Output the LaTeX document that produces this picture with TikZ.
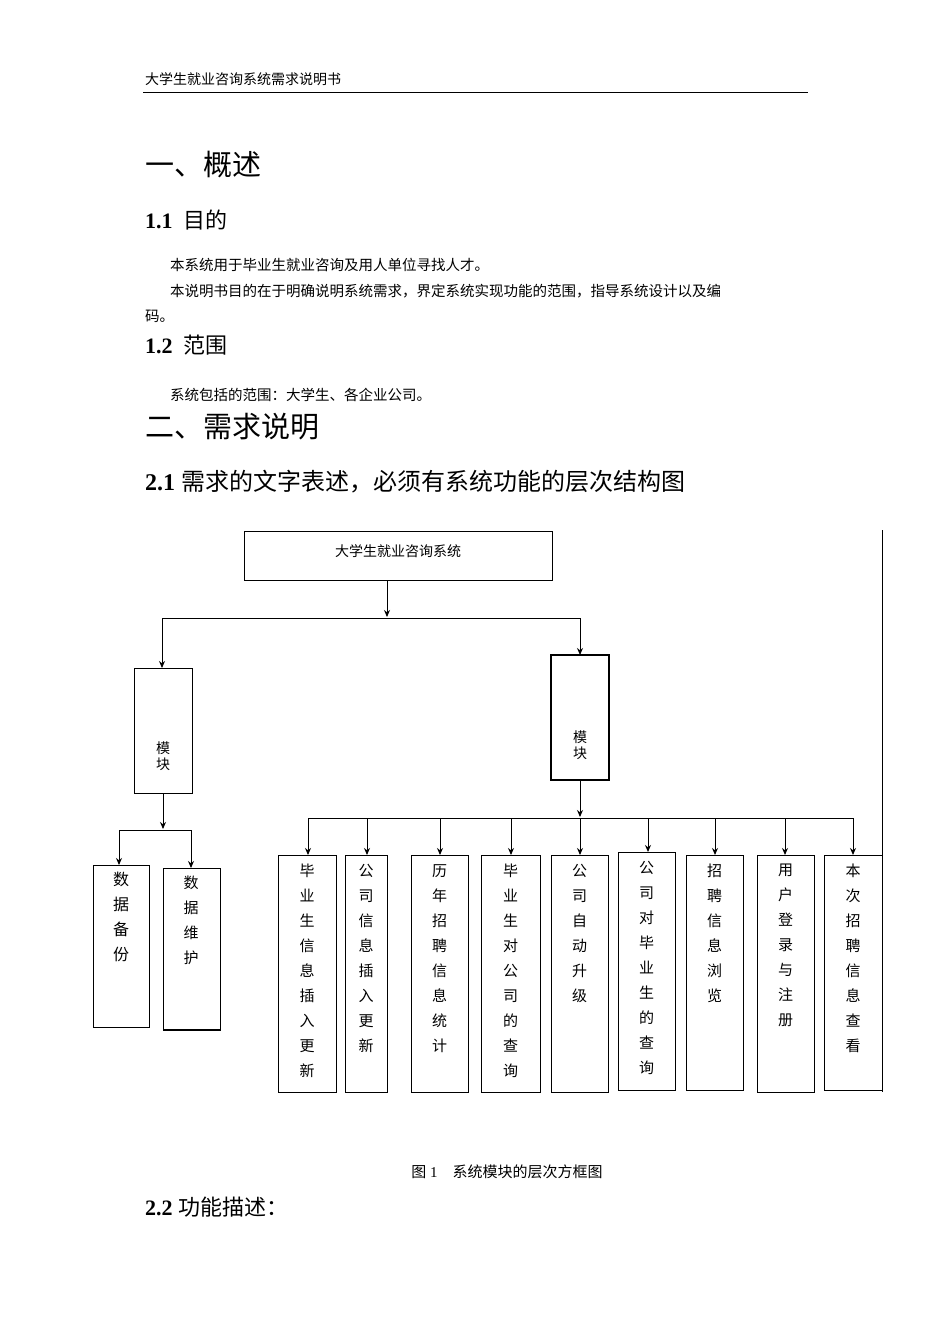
\documentclass[tikz,border=0pt]{standalone}
\usepackage{fontspec}
\usetikzlibrary{arrows.meta}
\setmainfont{Liberation Serif}
\newfontfamily\cjk{Noto Sans CJK SC}
\begin{document}
\begin{tikzpicture}[x=1pt,y=-1pt,
  bx/.style={draw,line width=0.8pt},
  arr/.style={-{Stealth[length=7pt,width=6pt]},line width=1pt},
  ln/.style={line width=1pt},
  vt/.style={anchor=north,align=center,font=\cjk\fontsize{15}{25}\selectfont,inner sep=0pt},
  tx/.style={anchor=west,inner sep=0pt}]
\useasboundingbox (0,0) rectangle (950,1344);
\fill[white] (0,0) rectangle (950,1344);
\node[tx,font=\cjk\fontsize{14}{14}\selectfont] (hd) at (145,79) {大学生就业咨询系统需求说明书};
\draw[line width=0.8pt] (143,92) -- (808,92);
\node[tx,font=\cjk\fontsize{29}{29}\selectfont] (h1) at (145,165) {一、概述};
\node[tx,font=\fontsize{22}{22}\selectfont] (h11) at (145,220) {\textbf{1.1}\ \ {\cjk 目的}};
\node[tx,font=\cjk\fontsize{14.5}{14.5}\selectfont] (p1) at (170,265) {本系统用于毕业生就业咨询及用人单位寻找人才。};
\node[tx,font=\cjk\fontsize{14.5}{14.5}\selectfont] (p2) at (170,291) {本说明书目的在于明确说明系统需求，界定系统实现功能的范围，指导系统设计以及编};
\node[tx,font=\cjk\fontsize{14.5}{14.5}\selectfont] (p3) at (145,316) {码。};
\node[tx,font=\fontsize{22}{22}\selectfont] (h12) at (145,345) {\textbf{1.2}\ \ {\cjk 范围}};
\node[tx,font=\cjk\fontsize{14.5}{14.5}\selectfont] (p4) at (170,395) {系统包括的范围：大学生、各企业公司。};
\node[tx,font=\cjk\fontsize{29}{29}\selectfont] (h2) at (145,427) {二、需求说明};
\node[tx,font=\fontsize{24}{24}\selectfont] (h21) at (145,482) {\textbf{2.1} {\cjk 需求的文字表述，必须有系统功能的层次结构图}};
\draw[line width=0.8pt] (882,530) -- (882,1092);
% top
\draw[bx] (244,531) rectangle (552,580);
\node[font=\cjk\fontsize{14}{14}\selectfont] (top) at (398,551) {大学生就业咨询系统};
\coordinate (tb) at (387,580);
\draw[arr] (tb) -- (387,617);
\draw[ln] (162,618) -- (580,618);
\draw[arr] (162,618) -- (162,668);
\draw[arr] (580,618) -- (580,655);
% modules
\draw[bx] (134,668) rectangle (192,793);
\node[vt,font=\cjk\fontsize{14}{16}\selectfont] (ml) at (163,742) {模\\块};
\draw[line width=2pt] (551,655) rectangle (609,780);
\node[vt,font=\cjk\fontsize{14}{16}\selectfont] (mr) at (580,731) {模\\块};
% left children
\draw[arr] (163,793) -- (163,829);
\draw[ln] (119,830) -- (191,830);
\draw[arr] (119,830) -- (119,865);
\draw[arr] (191,830) -- (191,868);
\draw[bx] (93,865) rectangle (149,1027);
\node[vt,font=\cjk\fontsize{16}{25}\selectfont] (b1) at (121,872) {数\\据\\备\\份};
\draw[bx] (163,868) rectangle (220,1030);
\draw[line width=2pt] (163,1030) -- (220,1030);
\node[vt] (b2) at (191,876) {数\\据\\维\\护};
% right children
\draw[arr] (580,780) -- (580,817);
\draw[ln] (308,818) -- (853,818);
\foreach \xa/\xb/\ya/\yb/\ax/\t in {
 278/336/855/1092/308/{毕\\业\\生\\信\\息\\插\\入\\更\\新},
 345/387/855/1092/367/{公\\司\\信\\息\\插\\入\\更\\新},
 411/468/855/1092/440/{历\\年\\招\\聘\\信\\息\\统\\计},
 481/540/855/1092/511/{毕\\业\\生\\对\\公\\司\\的\\查\\询},
 551/608/855/1092/580/{公\\司\\自\\动\\升\\级},
 618/675/852/1090/648/{公\\司\\对\\毕\\业\\生\\的\\查\\询},
 686/743/855/1090/715/{招\\聘\\信\\息\\浏\\览},
 757/814/855/1092/785/{用\\户\\登\\录\\与\\注\\册},
 824/882/855/1090/853/{本\\次\\招\\聘\\信\\息\\查\\看}}{
 \draw[arr] (\ax,818) -- (\ax,\ya);
 \draw[bx] (\xa,\ya) rectangle (\xb,\yb);
 \node[vt] at ({(\xa+\xb)/2},\ya+9) {\t};
}
\node[font=\fontsize{15}{15}\selectfont] (cap) at (507,1172) {{\cjk 图} 1\quad {\cjk 系统模块的层次方框图}};
\node[tx,font=\fontsize{22}{22}\selectfont] (h22) at (145,1207) {\textbf{2.2} {\cjk 功能描述：}};
\end{tikzpicture}
\end{document}
